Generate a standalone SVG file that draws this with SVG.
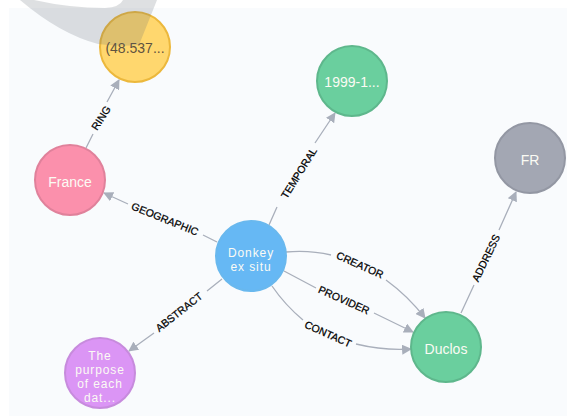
<svg xmlns="http://www.w3.org/2000/svg" width="567" height="416" viewBox="0 0 567 416">
<style>
.n{stroke-width:2}
.t{font-family:"Liberation Sans",Arial,sans-serif;font-size:14px;fill:#fbfbf4;text-anchor:middle}
.m{font-size:12px;letter-spacing:.9px}
.l{font-family:"Liberation Sans",Arial,sans-serif;font-size:10.5px;fill:#000;text-anchor:middle;stroke:#000;stroke-width:.25px}
.c{fill:none;stroke:#a9afbb;stroke-width:1.3}
.a{fill:#a9afbb}
</style>
<defs><marker id="arrow" viewBox="0 0 10 10" refX="9" refY="5" markerWidth="10" markerHeight="10" markerUnits="userSpaceOnUse" orient="auto"><path class="a" d="M0 0L10 5L0 10z"/></marker></defs>
<rect width="567" height="416" fill="#fff"/>
<rect x="9" y="8" width="558" height="408" fill="#f9fbfd"/>
<g id="connectors">
<path class="c" d="M86 148L93 134M107 102L119 80" marker-end="url(#arrow)"/>
<path class="c" d="M128 204L104 193" marker-end="url(#arrow)"/>
<path class="c" d="M217 242L203 235"/>
<path class="c" d="M269 225L277 207M315 143L335 113" marker-end="url(#arrow)"/>
<path class="c" d="M222 279L207 291M154 333L129 351" marker-end="url(#arrow)"/>
<path class="c" d="M286 252Q310 250 331 255M386 280Q408 296 425 318" marker-end="url(#arrow)"/>
<path class="c" d="M284 271L316 288M374 313L413 332" marker-end="url(#arrow)"/>
<path class="c" d="M272 286Q285 305 303 320M356 344Q385 351 411 349" marker-end="url(#arrow)"/>
<path class="c" d="M461 313L474 285M499 230L516 192" marker-end="url(#arrow)"/>
<text class="l" dy=".35em" transform="translate(101 118) rotate(-57)">RING</text>
<text class="l" dy=".35em" transform="translate(165 219) rotate(22)">GEOGRAPHIC</text>
<text class="l" dy=".35em" transform="translate(299 173) rotate(-58)">TEMPORAL</text>
<text class="l" dy=".35em" transform="translate(179 312) rotate(-38)">ABSTRACT</text>
<text class="l" dy=".35em" transform="translate(360 265) rotate(24)">CREATOR</text>
<text class="l" dy=".35em" transform="translate(344 300) rotate(24)">PROVIDER</text>
<text class="l" dy=".35em" transform="translate(328 334) rotate(24)">CONTACT</text>
<text class="l" dy=".35em" transform="translate(486 258) rotate(-64)">ADDRESS</text>
</g>
<g id="node-location"><circle class="n" cx="135" cy="47" r="35" fill="#ffd76e" stroke="#ecb83c"/><text class="t" x="135" y="53" style="fill:#5f5340">(48.537...</text></g>
<g id="node-france"><circle class="n" cx="70" cy="180" r="35" fill="#fb90ac" stroke="#e0819b"/><text class="t" x="70" y="187">France</text></g>
<g id="node-temporal"><circle class="n" cx="352" cy="81" r="35" fill="#6acf9e" stroke="#5eb78c"/><text class="t" x="352" y="87">1999-1...</text></g>
<g id="node-fr"><circle class="n" cx="530" cy="158" r="35" fill="#a3a7b3" stroke="#9397a3"/><text class="t" x="530" y="165">FR</text></g>
<g id="node-donkey"><circle class="n" cx="251" cy="256" r="35" fill="#66b8f4" stroke="#69b8ee"/><text class="t m" x="251" y="257">Donkey</text><text class="t m" x="251" y="271">ex situ</text></g>
<g id="node-abstract"><circle class="n" cx="100" cy="373" r="35" fill="#db95f5" stroke="#c78bdd"/><text class="t m" x="100" y="360">The</text><text class="t m" x="100" y="374">purpose</text><text class="t m" x="100" y="388">of each</text><text class="t m" x="100" y="402">dat...</text></g>
<g id="node-duclos"><circle class="n" cx="446" cy="347" r="35" fill="#6acf9e" stroke="#5eb78c"/><text class="t" x="446" y="354">Duclos</text></g>
<path d="M20 0Q60 34 98 44Q120 47 139 45L157 0L123 0Q120 7 105 8Q70 8 34 0Z" fill="#5a6470" fill-opacity=".2"/>
</svg>
